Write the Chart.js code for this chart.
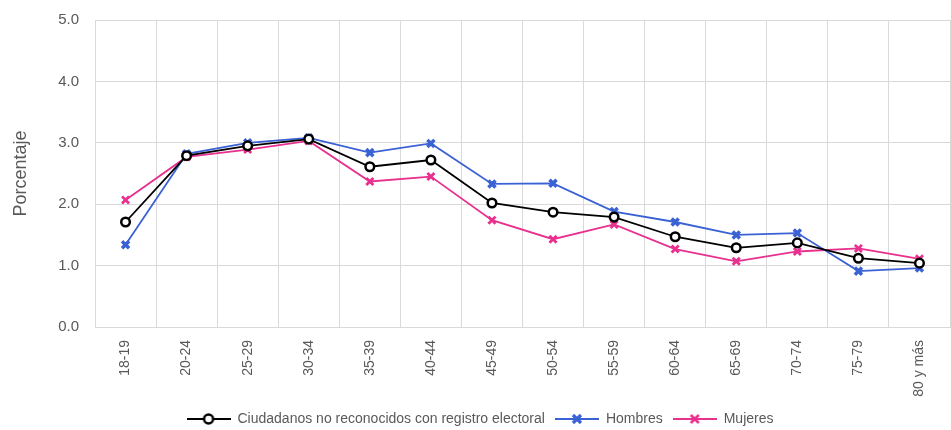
<!DOCTYPE html>
<html>
<head>
<meta charset="utf-8">
<script src="https://cdn.jsdelivr.net/npm/chart.js@4.4.0/dist/chart.umd.min.js"></script>
<style>
  html, body { margin: 0; padding: 0; background: #fff; overflow: hidden; }
  #wrap { width: 951px; height: 430px; position: relative; }
  canvas { display: block; }
</style>
</head>
<body>
<div id="wrap"><canvas id="grafico"></canvas></div>
<script>
const edades = ['18-19', '20-24', '25-29', '30-34', '35-39', '40-44', '45-49', '50-54', '55-59', '60-64', '65-69', '70-74', '75-79', '80 y más'];
const ciudadanos = [1.71, 2.79, 2.95, 3.06, 2.61, 2.72, 2.02, 1.87, 1.79, 1.47, 1.29, 1.37, 1.12, 1.04];
const hombres = [1.34, 2.82, 3.00, 3.08, 2.84, 2.99, 2.33, 2.34, 1.88, 1.71, 1.50, 1.53, 0.91, 0.96];
const mujeres = [2.07, 2.77, 2.89, 3.03, 2.37, 2.45, 1.74, 1.43, 1.67, 1.27, 1.07, 1.23, 1.28, 1.11];
const ticksY = [0, 1, 2, 3, 4, 5];

const fuente = "'Liberation Sans Narrow', 'Arial Narrow', 'Liberation Sans', sans-serif";
const gris = '#595959';

// icono de leyenda: linea con marcador al centro
function iconoLeyenda(color, tipo) {
    const c = document.createElement('canvas');
    c.width = 44; c.height = 14;
    const g = c.getContext('2d');
    g.strokeStyle = color;
    g.lineWidth = 2;
    g.beginPath(); g.moveTo(0, 7); g.lineTo(44, 7); g.stroke();
    if (tipo === 'circulo') {
        g.fillStyle = '#fff';
        g.lineWidth = 2.5;
        g.beginPath(); g.arc(22, 7, 4.5, 0, Math.PI * 2); g.fill(); g.stroke();
    } else {
        g.lineWidth = tipo === 'grueso' ? 3.2 : 2.6;
        g.beginPath();
        g.moveTo(18, 3); g.lineTo(26, 11);
        g.moveTo(26, 3); g.lineTo(18, 11);
        g.stroke();
    }
    return c;
}

const ctx = document.getElementById('grafico');

new Chart(ctx, {
    type: 'line',
    data: {
        labels: edades,
        datasets: [{
            label: 'Ciudadanos no reconocidos con registro electoral',
            data: ciudadanos,
            borderColor: '#000000',
            backgroundColor: '#ffffff',
            borderWidth: 1.8,
            pointStyle: 'circle',
            pointRadius: 4.3,
            pointBorderWidth: 2.5,
            pointBackgroundColor: '#ffffff',
            pointBorderColor: '#000000',
            tension: 0,
            order: 1
        },
        {
            label: 'Hombres',
            data: hombres,
            borderColor: '#3a62d4',
            backgroundColor: '#3a62d4',
            borderWidth: 1.8,
            pointStyle: 'crossRot',
            pointRadius: 5,
            pointBorderWidth: 3.5,
            pointBorderColor: '#3a62d4',
            tension: 0,
            order: 2
        },
        {
            label: 'Mujeres',
            data: mujeres,
            borderColor: '#e8308f',
            backgroundColor: '#e8308f',
            borderWidth: 1.8,
            pointStyle: 'crossRot',
            pointRadius: 5,
            pointBorderWidth: 2.8,
            pointBorderColor: '#e8308f',
            tension: 0,
            order: 3
        }]
    },
    options: {
        responsive: true,
        maintainAspectRatio: false,
        animation: false,
        layout: {
            autoPadding: false,
            padding: { left: 10, right: 1, top: 20, bottom: -6 }
        },
        scales: {
            x: {
                offset: true,
                grid: {
                    offset: true,
                    color: '#d9d9d9',
                    lineWidth: 1,
                    drawTicks: false
                },
                border: { color: '#d9d9d9' },
                ticks: {
                    color: gris,
                    font: { family: fuente, size: 14 },
                    minRotation: 90,
                    maxRotation: 90,
                    padding: 13,
                    autoSkip: false
                },
                afterFit: (eje) => {
                    eje.height = 75;
                    eje.paddingLeft = 0;
                    eje.paddingRight = 0;
                }
            },
            y: {
                min: 0,
                max: 5,
                afterBuildTicks: (eje) => { eje.ticks = ticksY.map(v => ({ value: v })); },
                grid: {
                    color: '#d9d9d9',
                    lineWidth: 1,
                    drawTicks: false
                },
                border: { color: '#d9d9d9' },
                ticks: {
                    color: gris,
                    font: { family: fuente, size: 15 },
                    padding: 16,
                    callback: (v) => v.toFixed(1)
                },
                title: {
                    display: true,
                    text: 'Porcentaje',
                    color: gris,
                    font: { family: fuente, size: 18 },
                    padding: { top: 0, bottom: 10 }
                },
                afterFit: (eje) => {
                    eje.width = 85;
                    eje.paddingTop = 0;
                    eje.paddingBottom = 0;
                }
            }
        },
        plugins: {
            legend: {
                position: 'bottom',
                labels: {
                    color: gris,
                    font: { family: fuente, size: 14 },
                    usePointStyle: true,
                    pointStyleWidth: 44,
                    boxHeight: 14,
                    padding: 10,
                    generateLabels: (chart) => {
                        const estilos = [iconoLeyenda('#000000', 'circulo'), iconoLeyenda('#3a62d4', 'grueso'), iconoLeyenda('#e8308f', 'fino')];
                        return chart.data.datasets.map((d, i) => ({
                            text: d.label,
                            fontColor: gris,
                            pointStyle: estilos[i],
                            strokeStyle: d.borderColor,
                            fillStyle: d.borderColor,
                            lineWidth: 0,
                            hidden: false,
                            datasetIndex: i
                        }));
                    }
                }
            },
            tooltip: { enabled: false }
        }
    }
});
</script>
</body>
</html>
